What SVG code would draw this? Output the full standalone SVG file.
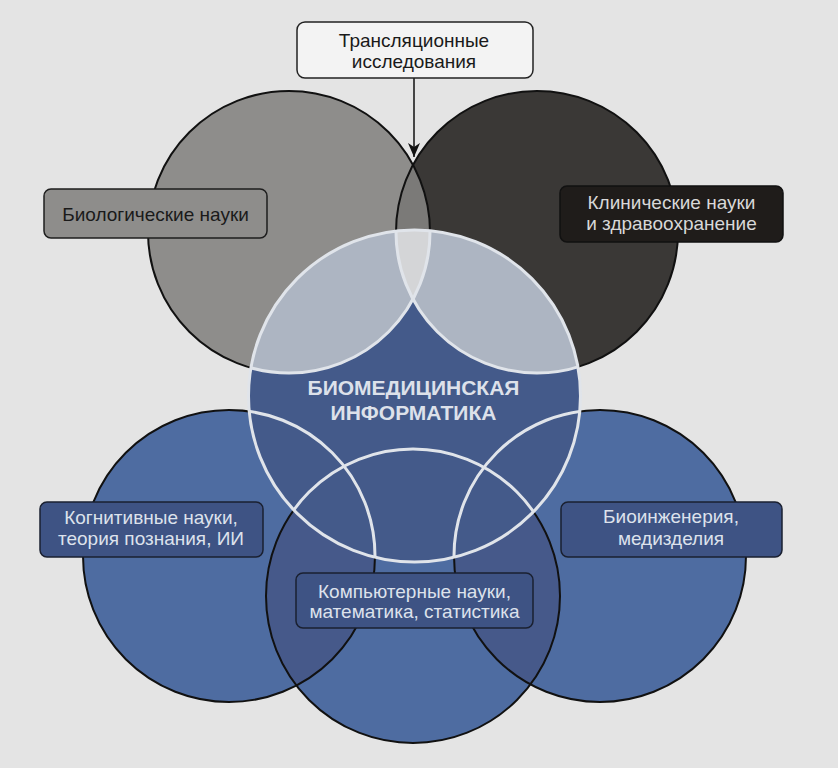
<svg xmlns="http://www.w3.org/2000/svg" width="838" height="768" viewBox="0 0 838 768">
<style>
.lbl{font-family:"Liberation Sans",Arial,Helvetica,sans-serif;font-size:19px;text-anchor:middle}
.dark{fill:#1a1a1a}
.light{fill:#dde2ec}
.title{font-family:"Liberation Sans",Arial,Helvetica,sans-serif;font-size:21px;font-weight:bold;text-anchor:middle;fill:#dde1ea}
.blk{fill:none;stroke:#111;stroke-width:2}
.wht{fill:none;stroke:#e0e4ea;stroke-width:3}
.bluebox{fill:#3e5384;stroke:#1a2030;stroke-width:1.5}
</style>
<defs>
<clipPath id="cBL"><circle cx="229" cy="556" r="146"/></clipPath>
<clipPath id="cBR"><circle cx="600" cy="556" r="146"/></clipPath>
<clipPath id="cTL"><circle cx="289" cy="232" r="141"/></clipPath>
<clipPath id="cC"><circle cx="414.5" cy="396" r="166"/></clipPath>
<marker id="arr" viewBox="0 0 12 14" refX="6" refY="14" markerWidth="12" markerHeight="14" markerUnits="userSpaceOnUse" orient="0">
<path d="M0,0 L6,4 L12,0 L6,14 z" fill="#111"/>
</marker>
</defs>
<rect width="838" height="768" fill="#e4e4e4"/>
<g id="circles">
<circle cx="229" cy="556" r="146" fill="#4e6ca1"/>
<circle cx="600" cy="556" r="146" fill="#4e6ca1"/>
<circle cx="413" cy="596" r="147" fill="#4e6ca1"/>
<g clip-path="url(#cBL)"><circle cx="413" cy="596" r="147" fill="#46598a"/></g>
<g clip-path="url(#cBR)"><circle cx="413" cy="596" r="147" fill="#46598a"/></g>
<circle class="blk" cx="229" cy="556" r="146"/>
<circle class="blk" cx="600" cy="556" r="146"/>
<circle class="blk" cx="413" cy="596" r="147"/>
<circle cx="289" cy="232" r="141" fill="#8e8d8b"/>
<circle cx="537" cy="232" r="141" fill="#3a3836"/>
<g clip-path="url(#cTL)"><circle cx="537" cy="232" r="141" fill="#7b7a78"/></g>
<circle class="blk" cx="289" cy="232" r="141"/>
<circle class="blk" cx="537" cy="232" r="141"/>
<g clip-path="url(#cC)">
<circle cx="414.5" cy="396" r="166" fill="#445a8a"/>
<circle cx="289" cy="232" r="141" fill="#adb5c2"/>
<circle cx="537" cy="232" r="141" fill="#adb5c2"/>
<g clip-path="url(#cTL)"><circle cx="537" cy="232" r="141" fill="#d4d5d7"/></g>
<circle class="wht" cx="289" cy="232" r="141" stroke-width="2"/>
<circle class="wht" cx="537" cy="232" r="141" stroke-width="2"/>
<circle class="wht" cx="229" cy="556" r="146"/>
<circle class="wht" cx="600" cy="556" r="146"/>
<circle class="wht" cx="413" cy="596" r="147"/>
</g>
<circle class="wht" cx="414.5" cy="396" r="166"/>
</g>
<g id="connectors">
<line x1="414" y1="78" x2="414" y2="157" stroke="#111" stroke-width="1.5" marker-end="url(#arr)"/>
</g>
<g id="translational">
<rect x="297" y="22" width="236" height="56" rx="8" fill="#f3f3f3" stroke="#222" stroke-width="1.5"/>
<text class="lbl dark" x="414" y="47">Трансляционные</text>
<text class="lbl dark" x="414" y="67.5">исследования</text>
</g>
<g id="biological">
<rect x="44" y="189" width="223" height="49" rx="7" fill="#8e8d8b" stroke="#1e1e1e" stroke-width="1.5"/>
<text class="lbl dark" x="155.5" y="220.5">Биологические науки</text>
</g>
<g id="clinical">
<rect x="560" y="186" width="223" height="56" rx="7" fill="#1f1c1a" stroke="#111" stroke-width="1.5"/>
<text class="lbl" fill="#d8d8d8" x="671.5" y="209">Клинические науки</text>
<text class="lbl" fill="#d8d8d8" x="671.5" y="229.5">и здравоохранение</text>
</g>
<g id="biomedical">
<text class="title" x="413.5" y="395">БИОМЕДИЦИНСКАЯ</text>
<text class="title" x="413.5" y="420">ИНФОРМАТИКА</text>
</g>
<g id="cognitive">
<rect class="bluebox" x="40" y="502" width="223" height="55" rx="7"/>
<text class="lbl light" x="151" y="523.5">Когнитивные науки,</text>
<text class="lbl light" x="151" y="545">теория познания, ИИ</text>
</g>
<g id="bioengineering">
<rect class="bluebox" x="561" y="502" width="221" height="55" rx="7"/>
<text class="lbl light" x="671" y="523">Биоинженерия,</text>
<text class="lbl light" x="671" y="544.5">медизделия</text>
</g>
<g id="computer">
<rect class="bluebox" x="296" y="573" width="237" height="55" rx="7"/>
<text class="lbl light" x="414.5" y="597.5">Компьютерные науки,</text>
<text class="lbl light" x="414.5" y="617.5">математика, статистика</text>
</g>
</svg>
